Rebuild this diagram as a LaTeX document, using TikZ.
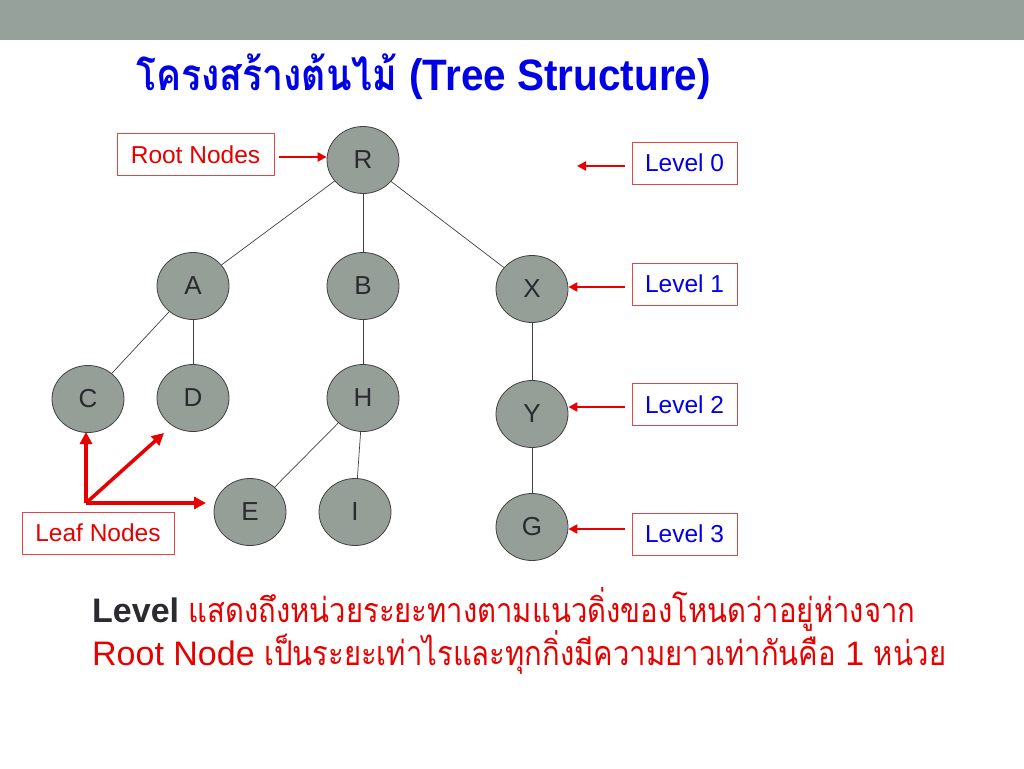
\documentclass[tikz,border=0pt]{standalone}
\usepackage{fontspec}
\usepackage{graphicx}
\setmainfont{Liberation Sans}
\newfontfamily\thaifont[Script=Thai]{Loma}
\newcommand{\thx}[1]{\scalebox{0.86}[1]{\thaifont #1}}
\usetikzlibrary{shapes.geometric,arrows.meta}
\definecolor{band}{HTML}{95A19A}
\definecolor{nodefill}{HTML}{959F98}
\definecolor{tblue}{HTML}{0000E6}
\definecolor{tred}{HTML}{E60000}
\definecolor{boxred}{HTML}{E04848}
\definecolor{dark}{HTML}{2A2A30}
\begin{document}
\begin{tikzpicture}[x=1pt,y=-1pt,
  treenode/.style={ellipse, draw=black!75, line width=0.8pt, fill=nodefill, minimum width=72pt, minimum height=67pt, inner sep=0pt, font=\fontsize{26}{26}\selectfont, text=dark},
  edge/.style={draw=black!75, line width=0.7pt},
  labelbox/.style={draw=boxred, line width=1pt, minimum height=42pt, inner sep=0pt, font=\fontsize{24.5}{24.5}\selectfont},
  redarrow/.style={draw=tred, line width=2.5pt, -{Triangle[length=9pt,width=9pt]}},
  leafarrow/.style={draw=tred, line width=3.5pt, -{Triangle[length=12pt,width=12pt]}}]
\useasboundingbox (0,0) rectangle (1024,768);
\fill[band] (0,0) rectangle (1024,40);
% title
\node[anchor=base west, inner sep=0pt, text=tblue, font=\bfseries\fontsize{44}{44}\selectfont] (title) at (136,90) {\scalebox{0.85}[1]{\thaifont โครงสร้างต้นไม้} \scalebox{0.92}[1]{(Tree Structure)}};
% tree nodes
\node[treenode] (R) at (363,160) {R};
\node[treenode] (A) at (193,286) {A};
\node[treenode] (B) at (363,286) {B};
\node[treenode] (X) at (532,289) {X};
\node[treenode] (C) at (88,399) {C};
\node[treenode] (D) at (193,398) {D};
\node[treenode] (H) at (363,398) {H};
\node[treenode] (Y) at (532,414) {Y};
\node[treenode] (E) at (250,512) {E};
\node[treenode] (I) at (355,512) {I};
\node[treenode] (G) at (532,527) {G};
\draw[edge] (R) -- (A);
\draw[edge] (R) -- (B);
\draw[edge] (R) -- (X);
\draw[edge] (A) -- (C);
\draw[edge] (A) -- (D);
\draw[edge] (B) -- (H);
\draw[edge] (H) -- (E);
\draw[edge] (H) -- (I);
\draw[edge] (X) -- (Y);
\draw[edge] (Y) -- (G);
% labels
\node[labelbox, minimum width=157pt, text=tred] (root) at (195.5,154.5) {Root Nodes};
\node[labelbox, minimum width=152pt, text=tred] (leaf) at (98,533) {Leaf Nodes};
\node[labelbox, minimum width=105pt, text=tblue] (L0) at (684.5,163) {Level 0};
\node[labelbox, minimum width=105pt, text=tblue] (L1) at (684.5,284) {Level 1};
\node[labelbox, minimum width=105pt, text=tblue] (L2) at (684.5,404.5) {Level 2};
\node[labelbox, minimum width=105pt, text=tblue] (L3) at (684.5,534) {Level 3};
% arrows
\draw[redarrow] (root.east |- 0,157) ++(4,0) -- (R.west |- 0,157);
\coordinate (l0t) at (577,166);
\draw[redarrow] (625,166) -- (l0t);
\draw[redarrow] (625,287) -- (X.east |- 0,287);
\draw[redarrow] (625,407) -- (Y.east |- 0,407);
\draw[redarrow] (625,529) -- (G.east |- 0,529);
\coordinate (corner) at (86,503);
\coordinate (toC) at (86,432);
\coordinate (toD) at (164,433);
\coordinate (toE) at (206,503);
\draw[leafarrow] (corner) -- (toC);
\draw[leafarrow] (corner) -- (toD);
\draw[leafarrow] (corner) -- (toE);
% bottom text
\node[anchor=base west, inner sep=0pt, text=tred, font=\fontsize{34}{34}\selectfont] (t1) at (92,622) {{\bfseries\color{dark}Level} \thx{แสดงถึงหน่วยระยะทางตามแนวดิ่งของโหนดว่าอยู่ห่างจาก}};
\node[anchor=base west, inner sep=0pt, text=tred, font=\fontsize{34}{34}\selectfont] (t2) at (92,665) {Root Node \thx{เป็นระยะเท่าไรและทุกกิ่งมีความยาวเท่ากันคือ} 1 \thx{หน่วย}};
\end{tikzpicture}
\end{document}
